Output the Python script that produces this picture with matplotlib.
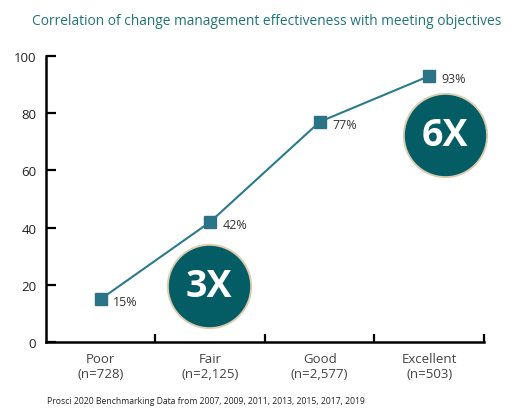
import matplotlib
matplotlib.use("Agg")
import matplotlib.pyplot as plt

categories = ["Poor", "Fair", "Good", "Excellent"]
counts = ["(n=728)", "(n=2,125)", "(n=2,577)", "(n=503)"]
values = [15, 42, 77, 93]
value_labels = ["15%", "42%", "77%", "93%"]
yticks = [0, 20, 40, 60, 80, 100]
badges = ["3X", "6X"]

plt.rcParams['font.family'] = ['Open Sans', 'DejaVu Sans']

fig = plt.figure(figsize=(5.16, 4.14), dpi=100)
ax = fig.add_axes([0.0891, 0.1715, 0.8489, 0.6908])

xs = [i + 0.5 for i in range(len(categories))]
ax.plot(xs, values, color="#2b7a8c", lw=1.5, zorder=3)
ax.plot(xs, values, ls="none", marker="s", ms=9, color="#2b7488", zorder=4)
for x, v, t in zip(xs, values, value_labels):
    ax.annotate(t, (x, v), xytext=(9, -2), textcoords="offset points",
                ha="left", va="center", fontsize=9, color="#333333", zorder=5)

# badges
badge_pos = [(1.489, 19.6), (3.644, 72.4)]
for (bx, by), t in zip(badge_pos, badges):
    ax.scatter([bx], [by], s=3600, color="#045c64", edgecolor="#dccdb0",
               linewidth=1.4, zorder=6, clip_on=False)
    ax.text(bx, by, t, ha="center", va="center", fontsize=27, color="white",
            fontweight="bold", zorder=7)

ax.set_xlim(0, 4)
ax.set_ylim(0, 100)
ax.set_yticks(yticks)
ax.set_xticks([1, 2, 3, 4])
ax.set_xticklabels([])
ax.tick_params(axis="y", direction="in", length=7, width=1.6, labelsize=9.5,
               colors="black", labelcolor="#222222", pad=7)
ax.tick_params(axis="x", direction="in", length=6, width=1.6)
for s in ["top", "right"]:
    ax.spines[s].set_visible(False)
for s in ["left", "bottom"]:
    ax.spines[s].set_linewidth(1.8)

for x, c, n in zip(xs, categories, counts):
    ax.text(x, -3.5, c + "\n" + n, ha="center", va="top", fontsize=9.5,
            color="#444444", linespacing=1.2, transform=ax.transData)

fig.text(0.517, 0.947, "Correlation of change management effectiveness with meeting objectives",
         ha="center", va="center", fontsize=9.9, color="#1f7478")
fig.text(0.091, 0.029, "Prosci 2020 Benchmarking Data from 2007, 2009, 2011, 2013, 2015, 2017, 2019",
         ha="left", va="center", fontsize=6.2, color="#222222")

fig.savefig("out.png", dpi=100)
